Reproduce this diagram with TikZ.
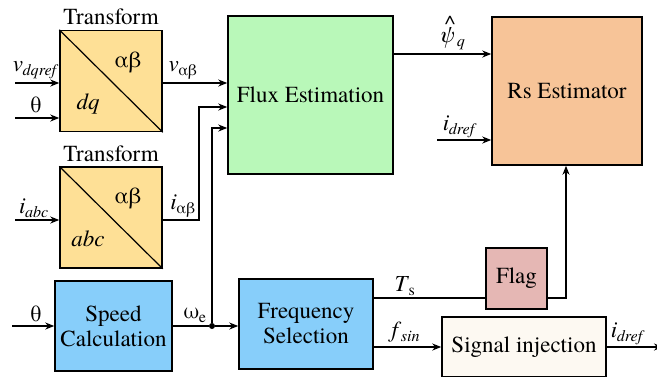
\documentclass[tikz,border=0pt]{standalone}
\usepackage{fontspec}
\setmainfont{texgyretermes-regular.otf}[BoldFont=texgyretermes-bold.otf, ItalicFont=texgyretermes-italic.otf, BoldItalicFont=texgyretermes-bolditalic.otf]
\usetikzlibrary{arrows.meta}
\definecolor{trfyellow}{RGB}{254,224,150}
\definecolor{fluxgreen}{RGB}{185,248,185}
\definecolor{rsorange}{RGB}{247,196,152}
\definecolor{calcblue}{RGB}{135,206,250}
\definecolor{flagpink}{RGB}{229,183,180}
\definecolor{injcream}{RGB}{253,249,242}
\tikzset{
  sig/.style={line width=2pt, -{Stealth[length=9pt,width=7pt]}},
  wire/.style={line width=2pt},
  blk/.style={draw=black, line width=1.5pt, inner sep=0pt, font=\fontsize{23}{25}\selectfont, align=center},
  blk-trf/.style={blk, fill=trfyellow, minimum width=102pt, minimum height=101pt},
  blk-calc/.style={blk, fill=calcblue},
  lbl/.style={inner sep=0pt, font=\fontsize{23}{25}\selectfont},
  node-dot/.style={circle, fill=black, minimum size=6pt, inner sep=0pt}
}
\newcommand{\ssub}[1]{\textsubscript{\kern-0.5pt#1}}

\begin{document}
\begin{tikzpicture}[x=1pt, y=-1pt]
  \useasboundingbox (0,0) rectangle (657,376);
  \clip (0,0) rectangle (657,376);
  % Transform blocks
  \node[blk-trf] (trfv) at (111,81) {};
  \draw[line width=1.2pt] (trfv.north west) -- (trfv.south east);
  \node[lbl] (trfvt) at (111,17) {Transform};
  \node[lbl] (trfva) at (128,62) {αβ};
  \node[lbl] (trfvd) at (88,104) {\textit{dq}};
  \node[blk-trf] (trfi) at (111,217.5) {};
  \draw[line width=1.2pt] (trfi.north west) -- (trfi.south east);
  \node[lbl] (trfit) at (111,154) {Transform};
  \node[lbl] (trfia) at (128,198) {αβ};
  \node[lbl] (trfid) at (88,239) {\textit{abc}};
  % Main blocks
  \node[blk, fill=fluxgreen, minimum width=165pt, minimum height=158pt] (flux) at (310.5,95) {Flux Estimation};
  \node[blk, fill=rsorange, minimum width=150pt, minimum height=148pt] (rs) at (567,91) {Rs Estimator};
  \node[blk-calc, minimum width=117pt, minimum height=90pt] (speed) at (113.5,326) {Speed\\Calculation};
  \node[blk-calc, minimum width=134pt, minimum height=90pt] (freq) at (306,324) {Frequency\\Selection};
  \node[blk, fill=flagpink, minimum width=61pt, minimum height=61pt] (flag) at (516.5,278.5) {Flag};
  \node[blk, fill=injcream, minimum width=164pt, minimum height=60pt] (inj) at (524,347) {Signal injection};
  % Free ends
  \coordinate (vin) at (15,83);
  \coordinate (thin) at (15,118);
  \coordinate (iin) at (15,220);
  \coordinate (thsp) at (12,326);
  \coordinate (idin) at (437,140);
  \coordinate (idout) at (663,347);
  \node[node-dot] (jct) at (212,326) {};
  % Inputs
  \draw[sig] (vin) -- (vin -| trfv.west);
  \draw[sig] (thin) -- (thin -| trfv.west);
  \draw[sig] (iin) -- (iin -| trfi.west);
  \draw[sig] (thsp) -- (thsp -| speed.west);
  \draw[sig] (idin) -- (idin -| rs.west);
  \node[lbl] (vlbl) at (36,70) {\textit{v}\ssub{\textit{dqref}}};
  \node[lbl] (thl1) at (36,105) {θ};
  \node[lbl] (ilbl) at (34,208) {\textit{i}\ssub{\textit{abc}}};
  \node[lbl] (thl2) at (36,314) {θ};
  \node[lbl] (idl1) at (460,127) {\textit{i}\ssub{\textit{dref}}};
  % Signals into flux estimation
  \draw[sig] (trfv.east |- vin) -- (flux.west |- vin);
  \draw[sig] (trfi.east |- iin) -| (199,107) -- (flux.west |- 0,107);
  \draw[wire] (speed.east |- jct) -- (jct);
  \draw[sig] (jct) -- (freq.west |- jct);
  \draw[sig] (jct) |- (flux.west |- 0,128);
  \node[lbl] (vab) at (183,70) {\textit{v}\ssub{αβ}};
  \node[lbl] (iab) at (183,206) {\textit{i}\ssub{αβ}};
  \node[lbl] (wel) at (195,315) {ω\ssub{e}};
  % Estimator paths
  \draw[sig] (flux.east |- 0,54) -- (rs.west |- 0,54);
  \node[lbl] (psil) at (452,33) {\textit{ψ}\kern-0.42em\raisebox{0.5em}{\^{}}\kern0.08em\ssub{\textit{q}}};
  \draw[wire] (freq.east |- 0,298) -- (flag.west |- 0,298);
  \draw[sig] (flag.east |- 0,298) -| (rs.south -| 566,0);
  \draw[sig] (freq.east |- 0,347) -- (inj.west |- 0,347);
  \draw[sig] (inj.east |- idout) -- (idout);
  \node[lbl] (tsl) at (405,286) {\textit{T}\ssub{s}};
  \node[lbl] (fsl) at (406,332) {\textit{f}\ssub{\textit{sin}}};
  \node[lbl] (idl2) at (628,334) {\textit{i}\ssub{\textit{dref}}};
\end{tikzpicture}
\end{document}
